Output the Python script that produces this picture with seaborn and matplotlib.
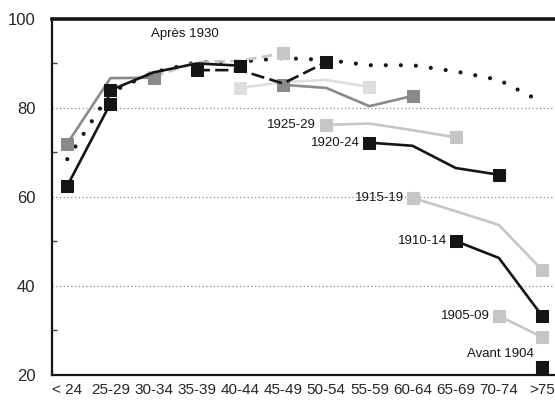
import numpy as np
import pandas as pd
import matplotlib
matplotlib.use("Agg")
import matplotlib.pyplot as plt
import seaborn as sns

# age groups on the x axis
ages = ["< 24", "25-29", "30-34", "35-39", "40-44", "45-49", "50-54",
        "55-59", "60-64", "65-69", "70-74", ">75"]

# dotted curve (all ages)
dotted_vals = [68.5, 83.5, 88.0, 90.3, 90.4, 91.2, 90.8, 89.6, 89.6, 88.2, 86.3, 81.3]

# cohorts after 1930 (first age index, values)
c1960_start, c1960 = 0, [62.5, 81.0]
c1955_start, c1955 = 0, [72.0, 86.7, 86.8]
c1950_start, c1950 = 1, [84.0, 88.0, 90.0, 89.5]
c1945_start, c1945 = 2, [87.0, 90.3, 90.6, 92.3]
c1940_start, c1940 = 3, [88.5, 88.5, 85.5, 90.3]
c1935_start, c1935 = 4, [84.5, 85.8, 86.3, 84.7]
c1930_start, c1930 = 5, [85.2, 84.5, 80.4, 82.7]

# labelled older cohorts
c1925_start, c1925 = 6, [76.2, 76.5, 75.0, 73.4]
c1920_start, c1920 = 7, [72.2, 71.5, 66.5, 65.0]
c1915_start, c1915 = 8, [59.8, 56.8, 53.7, 43.6]
c1910_start, c1910 = 9, [50.1, 46.3, 33.3]
c1905_start, c1905 = 10, [33.3, 28.5]
c1904_start, c1904 = 11, [21.8]

sns.set_style("white")
plt.rcParams['font.family'] = ['Liberation Sans', 'DejaVu Sans']

fig = plt.figure(figsize=(5.55, 4.03), dpi=100)
ax = fig.add_axes([0.094, 0.0695, 0.906, 0.8835])

BLACK = "#151515"
GREY = "#8a8a8a"
LIGHT = "#c6c6c6"
FAINT = "#dedede"


def cohort(start, vals, color, ls="-", lw=1.9):
    d = pd.DataFrame({"x": np.arange(start, start + len(vals)), "y": vals})
    mk = [0, len(vals) - 1]
    sns.lineplot(data=d, x="x", y="y", ax=ax, color=color, linestyle=ls,
                 linewidth=lw, marker="s", markersize=9, markevery=mk,
                 markeredgecolor=color, markerfacecolor=color)


# dotted curve
dd = pd.DataFrame({"x": np.arange(len(ages)), "y": dotted_vals})
sns.lineplot(data=dd, x="x", y="y", ax=ax, color=BLACK, linewidth=3,
             linestyle=(0, (0.01, 3.6)), dash_capstyle="round")

cohort(c1935_start, c1935, FAINT)
cohort(c1945_start, c1945, LIGHT, ls=(0, (4, 2)))
cohort(c1955_start, c1955, GREY)
cohort(c1930_start, c1930, GREY)
cohort(c1960_start, c1960, BLACK)
cohort(c1950_start, c1950, BLACK)
cohort(c1940_start, c1940, BLACK, ls=(0, (5, 2)))

cohort(c1925_start, c1925, LIGHT)
cohort(c1920_start, c1920, BLACK)
cohort(c1915_start, c1915, LIGHT)
cohort(c1910_start, c1910, BLACK)
cohort(c1905_start, c1905, LIGHT)
cohort(c1904_start, c1904, BLACK)

# labels
lab_kw = dict(ha="right", va="center", fontsize=9.5, color=BLACK)
ax.text(c1925_start - 0.23, c1925[0], "1925-29", **lab_kw)
ax.text(c1920_start - 0.23, c1920[0], "1920-24", **lab_kw)
ax.text(c1915_start - 0.2, c1915[0], "1915-19", **lab_kw)
ax.text(c1910_start - 0.2, c1910[0], "1910-14", **lab_kw)
ax.text(c1905_start - 0.2, c1905[0], "1905-09", **lab_kw)
ax.text(c1904_start - 0.2, 24.8, "Avant 1904", **lab_kw)
ax.text(2.73, 96.6, "Après 1930", ha="center", va="center", fontsize=9.5, color=BLACK)

ax.set_xlim(-0.35, 11.3)
ax.set_ylim(20, 100)
ax.set_xticks(range(len(ages)))
ax.set_xticklabels(ages)
ax.set_yticks([20, 40, 60, 80, 100])
ax.set_yticks([30, 50, 70, 90], minor=True)
ax.set_xlabel("")
ax.set_ylabel("")

for g in [40, 60, 80]:
    ax.axhline(g, color="#8a8a8a", linewidth=0.9, linestyle=(0, (1, 2)), zorder=0)

ax.tick_params(axis="x", direction="in", length=7, width=1, labelsize=11, pad=6, color="#444444")
ax.tick_params(axis="y", which="major", direction="in", length=7, width=1, labelsize=12, pad=12, color="#444444")
ax.tick_params(axis="y", which="minor", direction="in", length=3.5, width=1, color="#444444", left=True)

ax.spines["right"].set_visible(False)
ax.spines["top"].set_linewidth(2.6)
ax.spines["left"].set_linewidth(1.6)
ax.spines["bottom"].set_linewidth(1.6)
for s in ["top", "left", "bottom"]:
    ax.spines[s].set_color(BLACK)

fig.savefig("out.png", dpi=100)
